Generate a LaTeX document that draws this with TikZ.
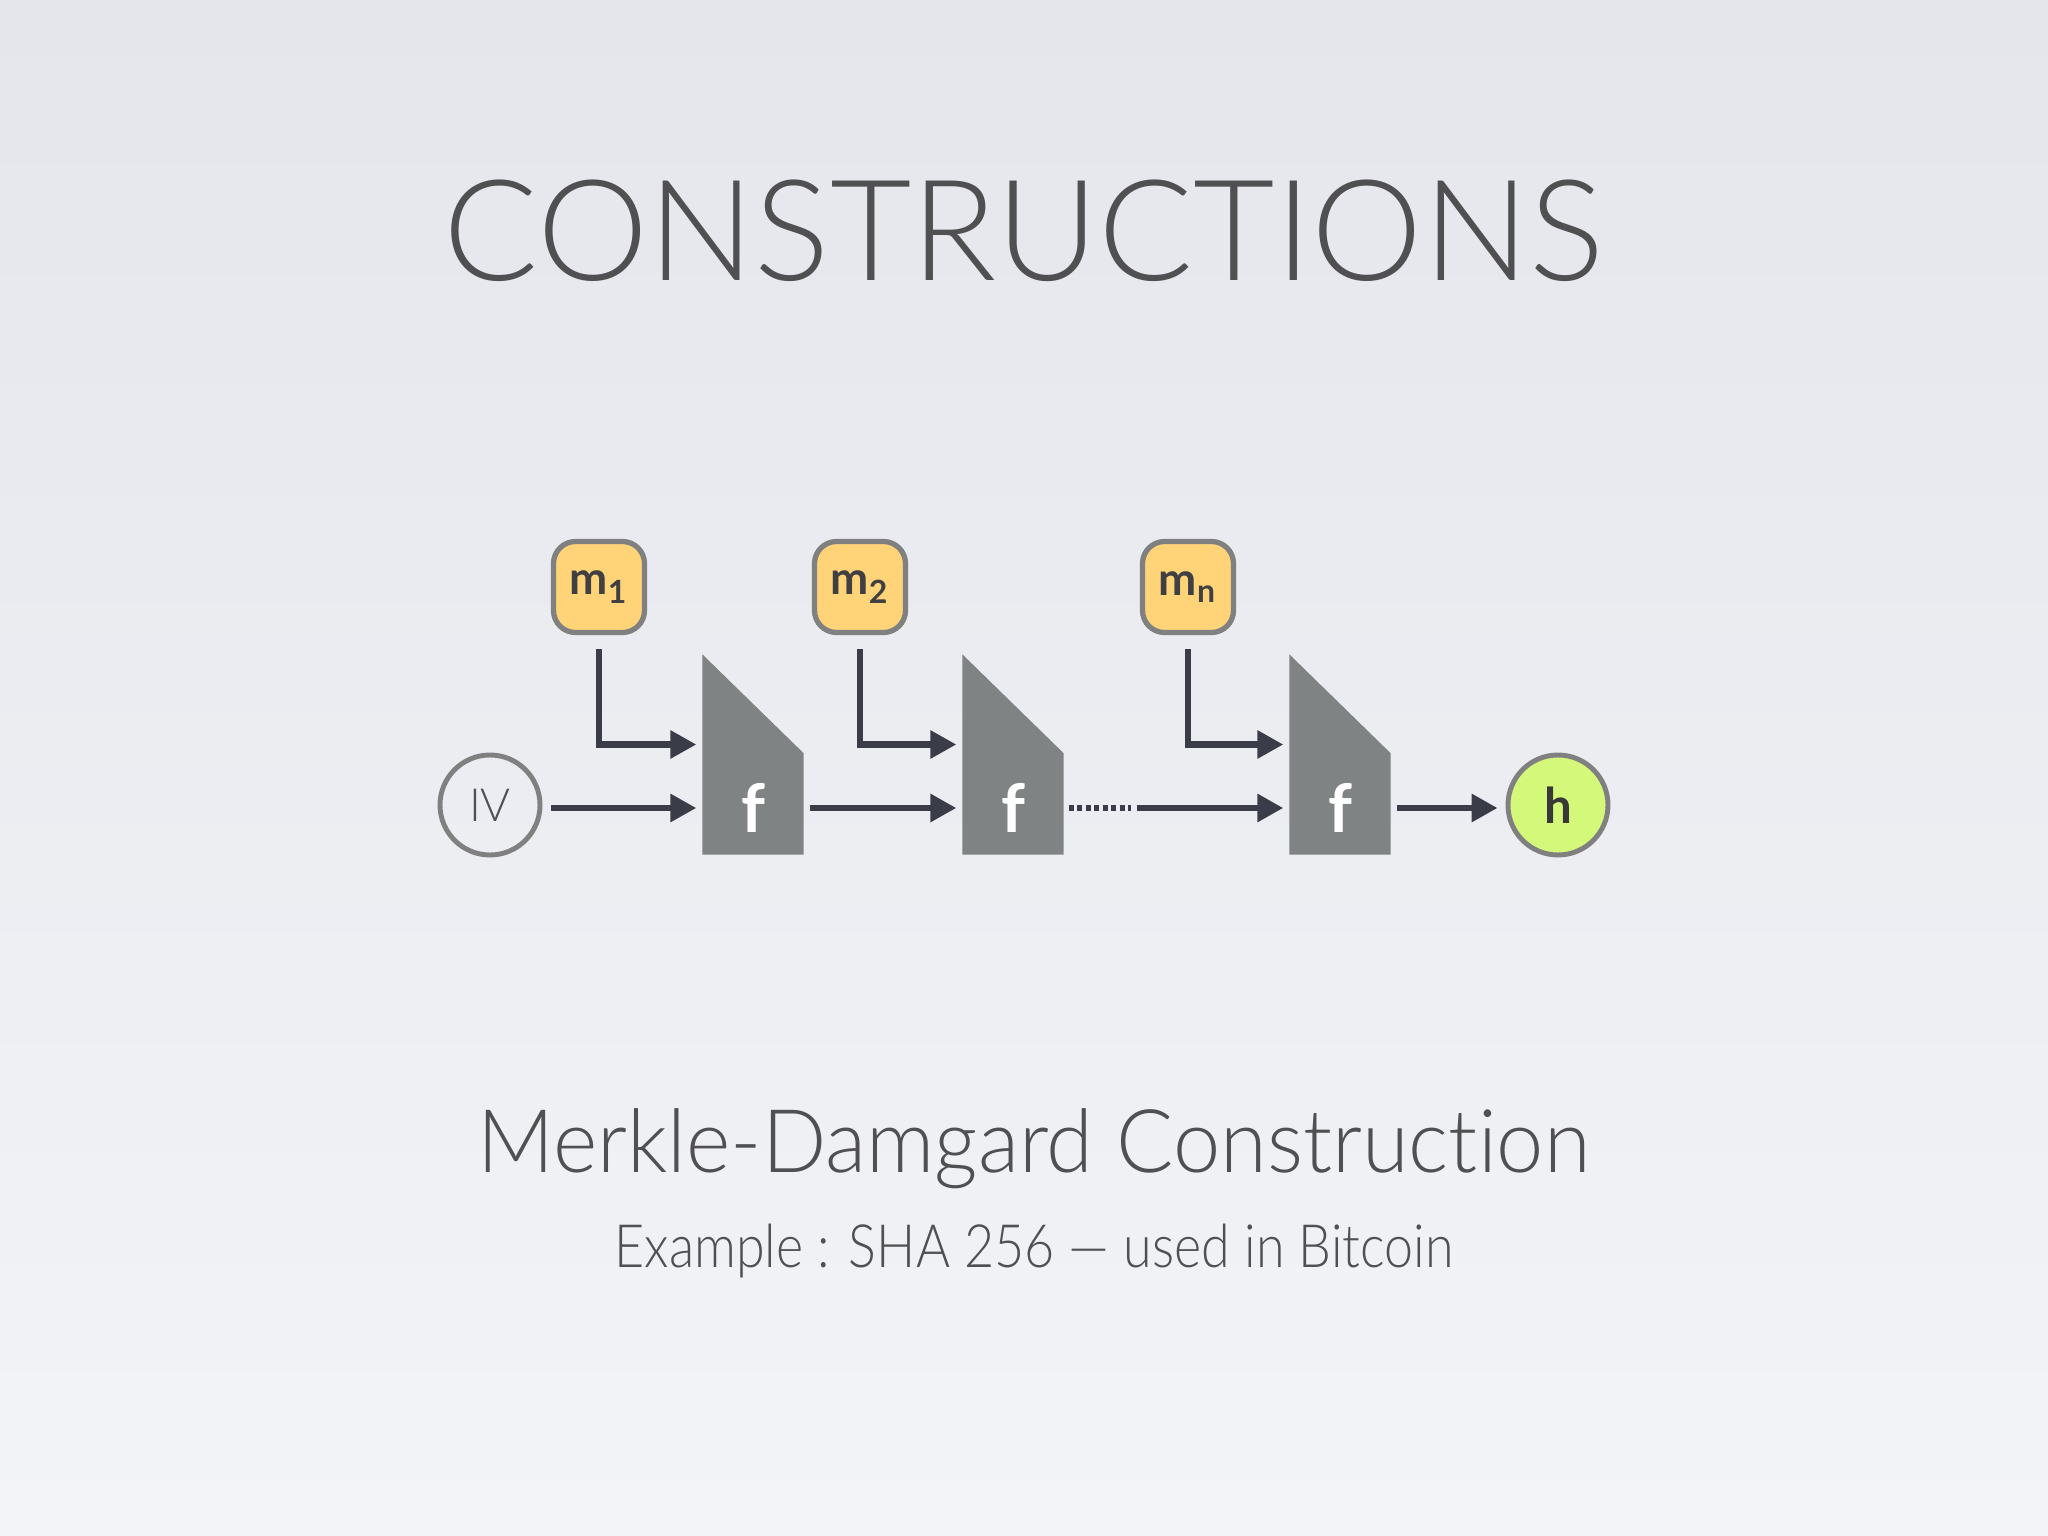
\documentclass[tikz,border=0pt]{standalone}
\usepackage{fontspec}
\setmainfont{Lato}[UprightFont=* Light, BoldFont=* Bold, Ligatures=NoCommon]
\usetikzlibrary{arrows.meta}

\definecolor{textgray}{RGB}{80,80,82}
\definecolor{boxfill}{RGB}{255,212,121}
\definecolor{rimgray}{RGB}{128,128,128}
\definecolor{blockgray}{RGB}{128,131,131}
\definecolor{arrowdark}{RGB}{58,61,72}
\definecolor{hashgreen}{RGB}{212,248,122}

\tikzset{
  msgbox/.style={draw=rimgray, line width=1.5pt, fill=boxfill, rounded corners=0.22cm,
                 minimum width=0.91cm, minimum height=0.91cm, inner sep=0pt,
                 font=\fontsize{13pt}{15pt}\selectfont\bfseries, text=textgray!80!black},
  fblock/.style={minimum width=1cm, minimum height=1.99cm, inner sep=0pt},
  flow/.style={draw=arrowdark, line width=1.8pt, -{Triangle[length=0.26cm, width=0.27cm]}},
  dotline/.style={draw=arrowdark, line width=1.8pt, dash pattern=on 0.05cm off 0.035cm},
  ftext/.style={text=white, font=\fontsize{19pt}{22pt}\selectfont\bfseries},
}

\begin{document}
\begin{tikzpicture}
   % background
   \shade[top color={rgb,255:red,228;green,230;blue,236}, bottom color={rgb,255:red,243;green,244;blue,247}]
        (0,0) rectangle (20.48,-15.36);
   \useasboundingbox (0,0) rectangle (20.48,-15.36);

   % titles
   \node[anchor=base, text=textgray, font=\fontsize{40pt}{48pt}\selectfont] (title) at (10.24,-2.81) {CONSTRUCTIONS};
   \node[anchor=base, text=textgray, font=\fontsize{25pt}{30pt}\selectfont] (name) at (10.34,-11.72)
        {\scalebox{0.965}[1]{Merkle-Damgard Construction}};
   \node[anchor=base, text=textgray, font=\fontsize{17pt}{20pt}\selectfont] (example) at (10.34,-12.67)
        {\scalebox{0.87}[1]{Example : SHA 256 --- used in Bitcoin}};

   % message blocks
   \node[msgbox] (m1) at ( 5.99,-5.87) {m\textsubscript{1}};
   \node[msgbox] (m2) at ( 8.60,-5.87) {m\textsubscript{2}};
   \node[msgbox] (mn) at (11.88,-5.87) {m\textsubscript{n}};

   % compression functions
   \node[fblock] (f1) at ( 7.53,-7.545) {};
   \node[fblock] (f2) at (10.13,-7.545) {};
   \node[fblock] (f3) at (13.40,-7.545) {};
   \foreach \f in {f1,f2,f3}{
      \fill[blockgray] (\f.north west) -- ([yshift=-0.99cm]\f.north east) -- (\f.south east) -- (\f.south west) -- cycle;
      \node[ftext] at ([yshift=0.47cm]\f.south) {f};
   }

   % IV and h
   \node[circle, draw=rimgray, line width=1.4pt, minimum size=1cm, inner sep=0pt, text=textgray,
         font=\fontsize{13pt}{15pt}\selectfont] (iv) at (4.90,-8.05) {IV};
   \node[circle, draw=rimgray, line width=1.4pt, fill=hashgreen, minimum size=1cm, inner sep=0pt,
         text=textgray!70!black, font=\fontsize{14pt}{16pt}\selectfont\bfseries] (h) at (15.58,-8.05) {h};

   % message inputs
   \draw[flow] ([yshift=-0.14cm]m1.south) |- ([xshift=-0.06cm,yshift=0.10cm]f1.west);
   \draw[flow] ([yshift=-0.14cm]m2.south) |- ([xshift=-0.06cm,yshift=0.10cm]f2.west);
   \draw[flow] ([yshift=-0.14cm]mn.south) |- ([xshift=-0.06cm,yshift=0.10cm]f3.west);

   % chaining values
   \draw[flow] ([xshift=0.09cm,yshift=-0.03cm]iv.east) -- ([xshift=-0.06cm,yshift=-0.535cm]f1.west);
   \draw[flow] ([xshift=0.06cm,yshift=-0.535cm]f1.east) -- ([xshift=-0.06cm,yshift=-0.535cm]f2.west);
   \draw[dotline] ([xshift=0.05cm,yshift=-0.535cm]f2.east) -- ++(0.62,0) coordinate (gap);
   \draw[flow] ([xshift=0.06cm]gap) -- ([xshift=-0.06cm,yshift=-0.535cm]f3.west);
   \draw[flow, shorten >=0.08cm] ([xshift=0.06cm,yshift=-0.535cm]f3.east) coordinate (out) -- (out -| h.west);
\end{tikzpicture}
\end{document}
